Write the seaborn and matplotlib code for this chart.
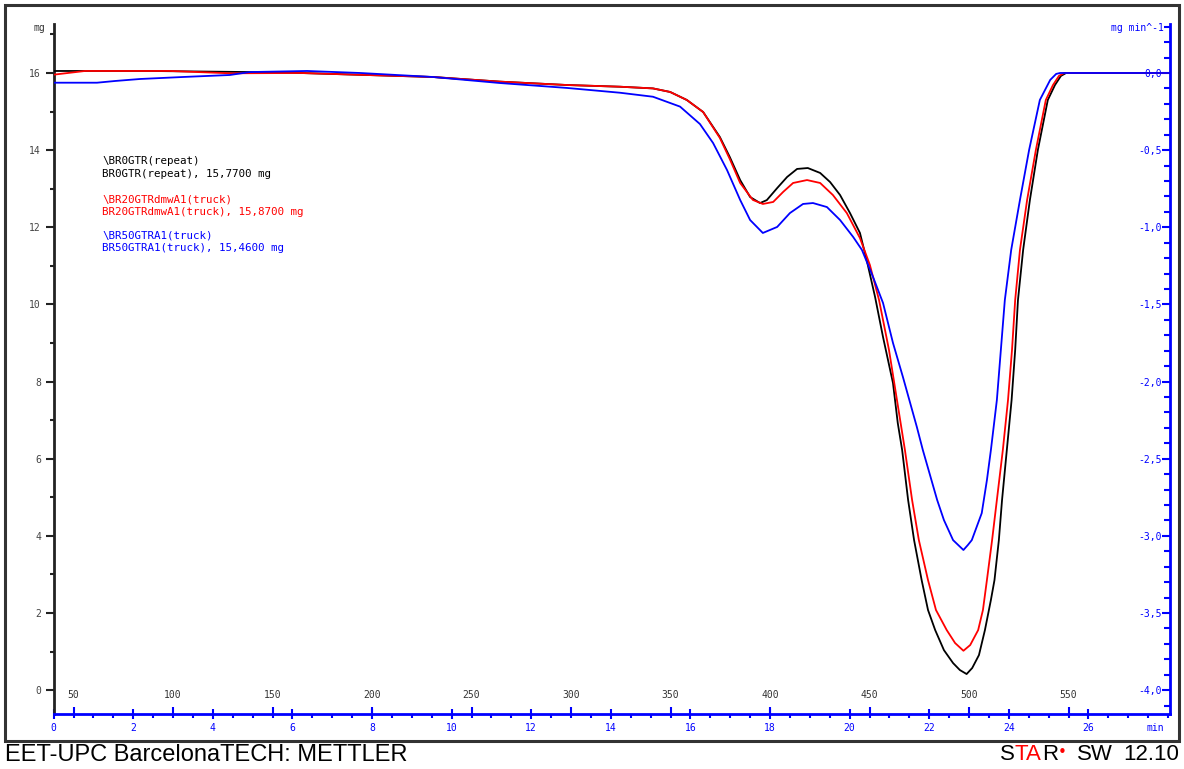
import numpy as np
import pandas as pd
import matplotlib
matplotlib.use("Agg")
import matplotlib.pyplot as plt
from matplotlib.patches import Rectangle
from matplotlib.ticker import MultipleLocator, NullLocator
import seaborn as sns

# ---------------- data (time in min, DTG in mg/min) ----------------
black_t = [0.00, 2.42, 4.93, 6.19, 9.53, 11.21, 12.90, 14.23, 15.06, 15.49, 15.91,
           16.32, 16.74, 16.99, 17.25, 17.50, 17.75, 17.92, 18.18, 18.43, 18.68,
           18.95, 19.26, 19.51, 19.76, 20.01, 20.26, 20.44, 20.64, 20.84, 21.09,
           21.21, 21.32, 21.47, 21.62, 21.81, 21.97, 22.15, 22.37, 22.60, 22.77, 22.94,
           23.08, 23.25, 23.40, 23.55, 23.64, 23.75, 23.83, 23.95, 24.07, 24.16,
           24.23, 24.36, 24.53, 24.73, 24.98, 25.16, 25.31, 25.44, 28.05]
black_v = [0.013, 0.013, 0.006, 0.000, -0.026, -0.056, -0.078, -0.089, -0.100, -0.123,
           -0.175, -0.253, -0.415, -0.545, -0.694, -0.804, -0.843, -0.824, -0.746,
           -0.674, -0.622, -0.616, -0.648, -0.707, -0.791, -0.908, -1.037, -1.225,
           -1.452, -1.712, -2.010, -2.269, -2.444, -2.768, -3.028, -3.287, -3.481, -3.611,
           -3.741, -3.825, -3.870, -3.896, -3.857, -3.773, -3.611, -3.416, -3.287,
           -3.028, -2.768, -2.444, -2.120, -1.796, -1.472, -1.147, -0.823, -0.499,
           -0.175, -0.078, -0.019, 0.000, 0.000]

red_t = [0.00, 0.79, 2.92, 4.43, 6.19, 9.53, 11.21, 12.90, 14.23, 15.06, 15.49,
         15.91, 16.32, 16.74, 16.99, 17.25, 17.57, 17.82, 18.08, 18.33, 18.58,
         18.93, 19.26, 19.58, 19.93, 20.26, 20.51, 20.74, 20.99, 21.19, 21.39,
         21.57, 21.74, 21.97, 22.17, 22.44, 22.65, 22.86, 23.03, 23.23, 23.35,
         23.45, 23.58, 23.70, 23.85, 23.98, 24.08, 24.16, 24.28, 24.46, 24.68,
         24.93, 25.11, 25.26, 25.39, 28.05]
red_v = [-0.011, 0.013, 0.013, -0.002, 0.000, -0.026, -0.056, -0.078, -0.089, -0.100,
         -0.123, -0.175, -0.253, -0.421, -0.558, -0.713, -0.823, -0.849, -0.836,
         -0.771, -0.713, -0.694, -0.713, -0.791, -0.908, -1.070, -1.245, -1.472,
         -1.796, -2.120, -2.444, -2.768, -3.028, -3.287, -3.481, -3.611, -3.695,
         -3.745, -3.708, -3.611, -3.481, -3.287, -3.028, -2.768, -2.444, -2.120,
         -1.796, -1.472, -1.147, -0.823, -0.499, -0.175, -0.078, -0.019, 0.000,
         0.000]

blue_t = [0.00, 1.09, 1.54, 2.17, 3.25, 4.43, 4.93, 6.37, 7.70, 9.53, 11.21, 12.90,
          14.23, 15.06, 15.74, 16.24, 16.57, 16.92, 17.25, 17.50, 17.82, 18.18,
          18.50, 18.83, 19.08, 19.43, 19.76, 20.09, 20.31, 20.59, 20.84, 21.09,
          21.34, 21.69, 21.84, 22.20, 22.37, 22.60, 22.86, 22.97, 23.07, 23.32, 23.45,
          23.55, 23.70, 23.80, 23.90, 24.06, 24.28, 24.51, 24.78, 25.04, 25.19,
          25.29, 28.05]
blue_v = [-0.063, -0.063, -0.052, -0.039, -0.026, -0.013, 0.006, 0.013, 0.000, -0.026,
          -0.065, -0.097, -0.128, -0.154, -0.218, -0.331, -0.454, -0.629, -0.823,
          -0.953, -1.037, -0.998, -0.908, -0.849, -0.843, -0.869, -0.953, -1.063,
          -1.147, -1.323, -1.491, -1.750, -1.971, -2.295, -2.444, -2.768, -2.898,
          -3.028, -3.092, -3.060, -3.028, -2.853, -2.639, -2.444, -2.120, -1.796,
          -1.472, -1.147, -0.823, -0.499, -0.175, -0.045, -0.006, 0.000, 0.000]

series_names = ["BR0GTR(repeat)", "BR20GTRdmwA1(truck)", "BR50GTRA1(truck)"]
series_colors = ["#000000", "#ff0000", "#0000ff"]
legend_lines = [
    ("\\BR0GTR(repeat)", "BR0GTR(repeat), 15,7700 mg"),
    ("\\BR20GTRdmwA1(truck)", "BR20GTRdmwA1(truck), 15,8700 mg"),
    ("\\BR50GTRA1(truck)", "BR50GTRA1(truck), 15,4600 mg"),
]

left_ticks = [0, 2, 4, 6, 8, 10, 12, 14, 16]
left_labels = ["0", "2", "4", "6", "8", "10", "12", "14", "16"]
right_ticks = [0.0, -0.5, -1.0, -1.5, -2.0, -2.5, -3.0, -3.5, -4.0]
right_labels = ["0,0", "-0,5", "-1,0", "-1,5", "-2,0", "-2,5", "-3,0", "-3,5", "-4,0"]
min_ticks = [0, 2, 4, 6, 8, 10, 12, 14, 16, 18, 20, 22, 24, 26]
temp_ticks = [50, 100, 150, 200, 250, 300, 350, 400, 450, 500, 550]

# ---------------- figure ----------------
sns.set_style("white")
plt.rcParams["font.family"] = ["DejaVu Sans Mono", "DejaVu Sans"]

W, H = 1184, 769
fig = plt.figure(figsize=(W / 100, H / 100), dpi=100)

def fx(px):
    return px / W

def fy(py):
    return 1 - py / H

ax = fig.add_axes([fx(53.6), fy(714), fx(1170) - fx(53.6), fy(24) - fy(714)])
ax2 = ax.twinx()

XMAX = 28.05
ax.set_xlim(0, XMAX)
ax.set_ylim(-0.62, 17.27)
ax2.set_ylim(-4.155, 0.3175)

rows = []
for name, tt, vv in zip(series_names, [black_t, red_t, blue_t], [black_v, red_v, blue_v]):
    for a, b in zip(tt, vv):
        rows.append({"t": a, "v": b, "s": name})
df = pd.DataFrame(rows)
sns.lineplot(data=df, x="t", y="v", hue="s", hue_order=series_names,
             palette=dict(zip(series_names, series_colors)), sort=False,
             estimator=None, legend=False, linewidth=1.3, ax=ax2)
ax2.set_xlim(0, XMAX)
ax2.set_xlabel("")
ax2.set_ylabel("")

# spines
for s in ["top", "right"]:
    ax.spines[s].set_visible(False)
ax.spines["left"].set_color("#222222")
ax.spines["left"].set_linewidth(2.0)
ax.spines["bottom"].set_color("#0000ff")
ax.spines["bottom"].set_linewidth(2.0)
for s in ["top", "left", "bottom"]:
    ax2.spines[s].set_visible(False)
ax2.spines["right"].set_color("#0000ff")
ax2.spines["right"].set_linewidth(2.0)

# left axis
ax.set_yticks(left_ticks)
ax.set_yticklabels(left_labels)
ax.yaxis.set_minor_locator(MultipleLocator(1))
ax.tick_params(axis="y", which="major", direction="out", length=6, width=1.5,
               color="#222222", labelsize=7, labelcolor="#444444", pad=3, left=True)
ax.tick_params(axis="y", which="minor", direction="out", length=3, width=1.5,
               color="#222222", left=True)

# bottom axis (minutes)
ax.set_xticks(min_ticks)
ax.set_xticklabels([str(v) for v in min_ticks])
ax.xaxis.set_minor_locator(MultipleLocator(0.5))
ax.tick_params(axis="x", which="major", direction="inout", length=7, width=1.5,
               color="#0000ff", labelsize=7, labelcolor="#0000ff", pad=3, bottom=True)
ax.tick_params(axis="x", which="minor", direction="out", length=3, width=1.5,
               color="#0000ff", bottom=True)
ax.text(0.987, -0.021, "min", transform=ax.transAxes, ha="center", va="center",
        fontsize=7, color="#0000ff")

# temperature labels above bottom axis
sec = ax.secondary_xaxis(0.0, functions=(lambda t: 40 + 20 * t, lambda T: (T - 40) / 20))
sec.set_xticks(temp_ticks)
sec.set_xticklabels([str(v) for v in temp_ticks])
sec.xaxis.set_minor_locator(NullLocator())
for s in sec.spines.values():
    s.set_visible(False)
sec.tick_params(axis="x", which="major", top=True, bottom=False, labeltop=True,
                labelbottom=False, direction="out", length=5, width=1.5,
                color="#0000ff", labelsize=7, labelcolor="#333333", pad=5)

# right axis
ax2.set_yticks(right_ticks)
ax2.set_yticklabels(right_labels, ha="right")
ax2.yaxis.set_minor_locator(MultipleLocator(0.1))
ax2.tick_params(axis="y", which="major", direction="in", length=6, width=1.5,
                color="#0000ff", labelsize=7, labelcolor="#0000ff", pad=-6, right=True)
ax2.tick_params(axis="y", which="minor", direction="in", length=4, width=1.5,
                color="#0000ff", right=True)

# axis unit labels
fig.text(fx(39), fy(28), "mg", ha="center", va="center", fontsize=7, color="#333333")
fig.text(fx(1164), fy(28), "mg min^-1", ha="right", va="center", fontsize=7, color="#0000ff")

# legend text block
ys = [(161, 174), (200, 212), (235, 248)]
for (l1, l2), (y1, y2), c in zip(legend_lines, ys, series_colors):
    fig.text(fx(102), fy(y1), l1, ha="left", va="center", fontsize=7.8, color=c)
    fig.text(fx(102), fy(y2), l2, ha="left", va="center", fontsize=7.8, color=c)

# outer frame
fig.add_artist(Rectangle((fx(5), fy(741)), fx(1179) - fx(5), fy(5) - fy(741),
                         transform=fig.transFigure, fill=False, lw=2.2,
                         edgecolor="#333333"))

# footer texts
foot = dict(fontsize=17, family="Liberation Sans")
fig.text(fx(5), fy(755), "EET-UPC BarcelonaTECH: METTLER", ha="left", va="center",
         color="#000000", **foot)
foot2 = dict(fontsize=16, family="Liberation Sans")
t1 = ax.annotate("S", xy=(fx(1000), fy(755)), xycoords="figure fraction",
                 ha="left", va="center", color="#000000", annotation_clip=False, **foot2)
p2 = ax.annotate("TA", xy=(1, 0.5), xycoords=t1, ha="left", va="center",
                 color="#ff0000", annotation_clip=False, **foot2)
p3 = ax.annotate("R", xy=(1, 0.5), xycoords=p2, ha="left", va="center",
                 color="#000000", annotation_clip=False, **foot2)
p4 = ax.annotate("\u2022", xy=(1, 0.62), xycoords=p3, ha="left", va="center",
                 color="#ff0000", fontsize=11, family="DejaVu Sans",
                 annotation_clip=False)
fig.text(fx(1077), fy(755), "SW", ha="left", va="center", color="#000000", **foot2)
fig.text(fx(1179), fy(755), "12.10", ha="right", va="center", color="#000000", **foot2)

fig.savefig("out.png", dpi=100)
